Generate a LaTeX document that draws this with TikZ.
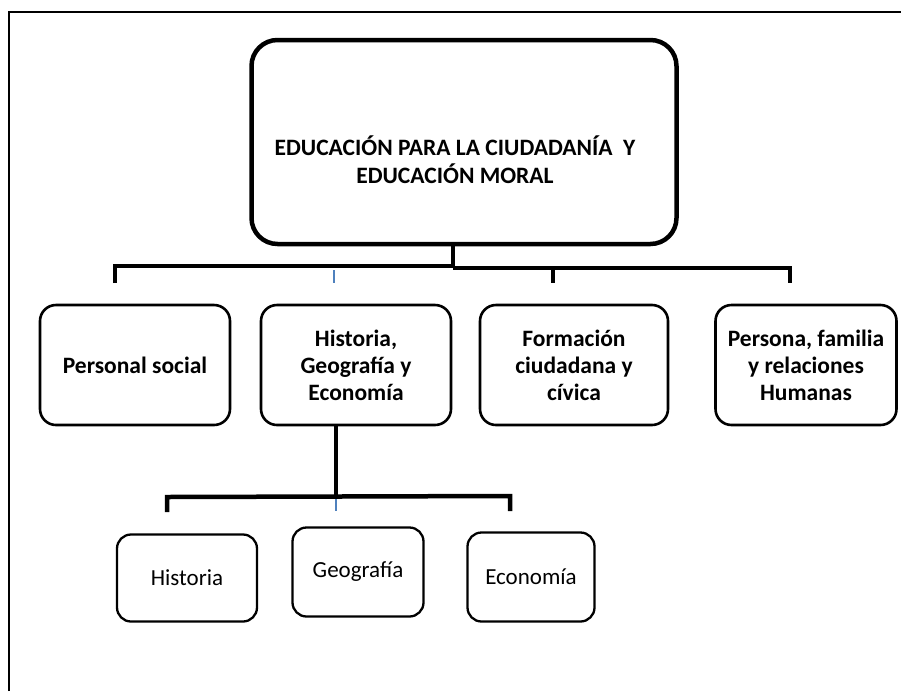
\documentclass[tikz,border=0pt]{standalone}
\usepackage{fontspec}
\setmainfont{Carlito}
\definecolor{tickblue}{RGB}{79,129,189}
\begin{document}
\begin{tikzpicture}
  [x=1pt,y=-1pt,line join=miter,
   box/.style={draw,rounded corners=16pt,align=center,line width=2.6pt,inner sep=2pt,
     font=\fontsize{23.5}{27}\selectfont\bfseries},
   topbox/.style={box,rounded corners=26pt,line width=4.5pt},
   subbox/.style={box,rounded corners=14pt,line width=2.3pt,font=\fontsize{23}{27}\selectfont},
   label/.style={align=center,inner sep=0pt,font=\fontsize{23.5}{28}\selectfont\bfseries},
   bar/.style={line width=4.5pt},
   bluetick/.style={line width=2pt,draw=tickblue}]
  \useasboundingbox (0,0) rectangle (901,691);
  \draw[line width=1.5pt] (9,691) -- (9,12) -- (901,12);

  % main box
  \node[topbox,minimum width=425pt,minimum height=204pt] (edu) at (464,142) {};
  \node[label] (edutext) at (455,160)
    {EDUCACIÓN PARA LA CIUDADANÍA \ Y\\EDUCACIÓN MORAL};

  % second level
  \node[box,minimum width=190pt,minimum height=120pt] (ps)  at (135,365) {Personal social};
  \node[box,minimum width=190pt,minimum height=120pt] (hge) at (356,365) {Historia,\\Geografía y\\Economía};
  \node[box,minimum width=188pt,minimum height=120pt] (fcc) at (574,365) {Formación\\ciudadana y\\cívica};
  \node[box,minimum width=181pt,minimum height=120pt] (pfr) at (806,365) {Persona, familia\\y relaciones\\Humanas};

  % third level
  \node[subbox,minimum width=140pt,minimum height=87pt] (his) at (187,578) {Historia};
  \node[subbox,minimum width=131pt,minimum height=89pt] (geo) at (358,572) {Geografía};
  \node[subbox,minimum width=127pt,minimum height=89pt] (eco) at (531,577) {Economía};

  % upper bar
  \coordinate (j1) at (453,266);
  \coordinate (k1) at (453,268);
  \coordinate (b1) at (115,266);
  \coordinate (b2) at (334,270);
  \coordinate (b3) at (553,268);
  \coordinate (b4) at (790,268);
  \coordinate (e1) at (115,283);
  \coordinate (e2) at (334,283);
  \coordinate (e3) at (553,283);
  \coordinate (e4) at (790,283);

  \draw[bar] (edu.south -| j1) -- (j1);
  \draw[bar] (e1) -- (b1) -- (j1);
  \draw[bar] (k1) -- (b4) -- (e4);
  \draw[bar] (b3) -- (e3);
  \draw[bluetick] (b2) -- (e2);

  % lower bar
  \coordinate (j2) at (336,497);
  \coordinate (c1) at (167,497);
  \coordinate (c2) at (336,499);
  \coordinate (c3) at (510,496);
  \coordinate (f1) at (167,512);
  \coordinate (f2) at (336,511);
  \coordinate (f3) at (510,511);

  \draw[bar] (hge.south -| j2) -- (j2);
  \draw[bar] (f1) -- (c1) -- (c3) -- (f3);
  \draw[bluetick] (c2) -- (f2);

\end{tikzpicture}
\end{document}
